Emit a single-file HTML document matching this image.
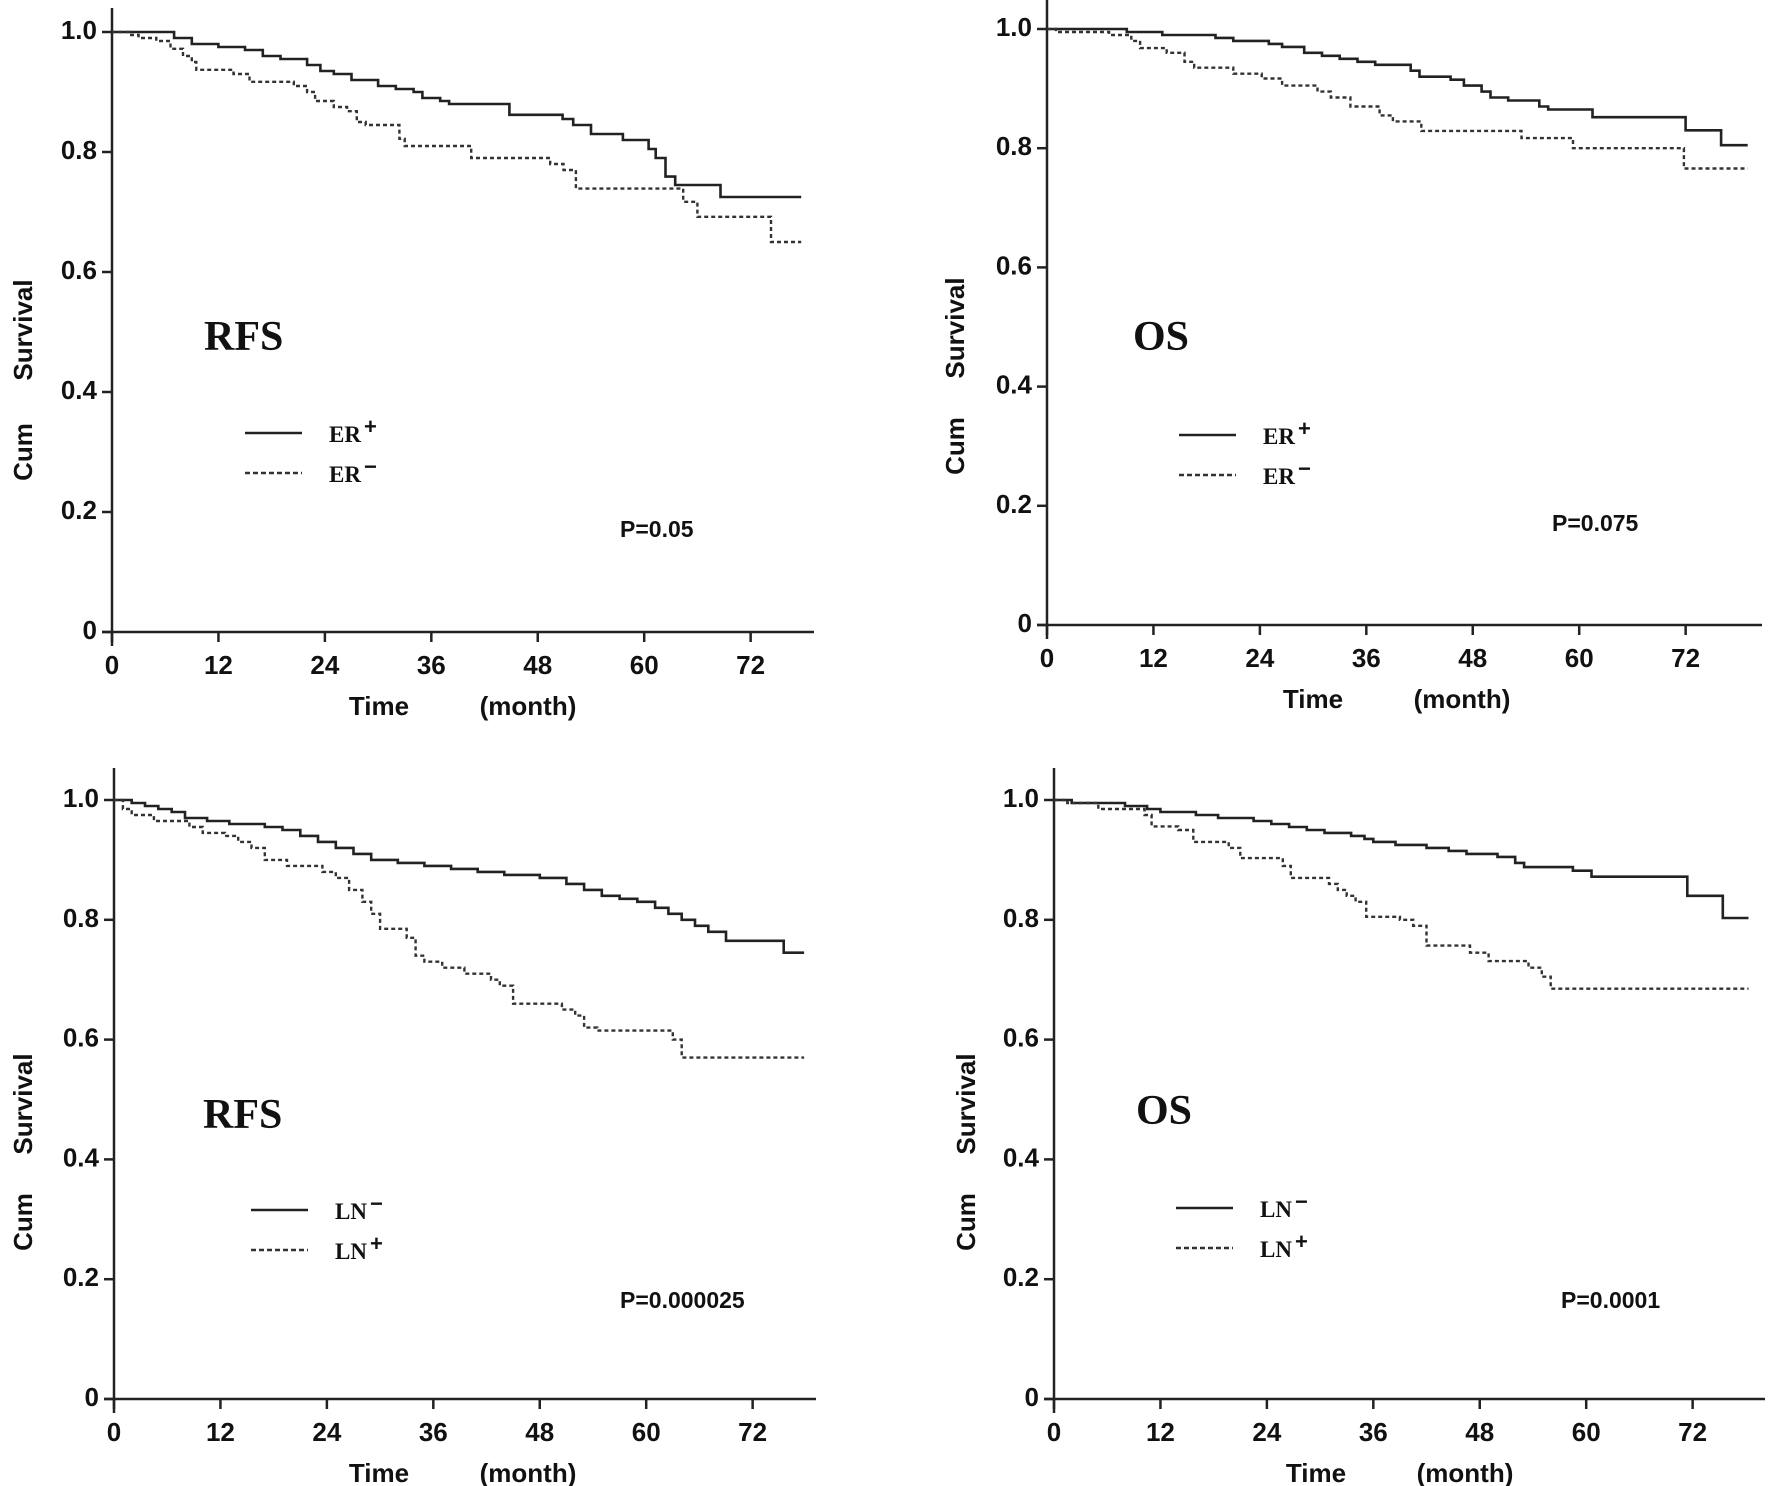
<!DOCTYPE html>
<html><head><meta charset="utf-8"><style>
html,body{margin:0;padding:0;background:#fff;}
svg{display:block;}
.tk{font-family:"Liberation Sans",sans-serif;font-weight:bold;font-size:26px;fill:#111;}
.ax{font-family:"Liberation Sans",sans-serif;font-weight:bold;font-size:26px;fill:#111;}
.ttl{font-family:"Liberation Serif",serif;font-weight:bold;font-size:42px;fill:#111;}
.lg{font-family:"Liberation Serif",serif;font-weight:bold;font-size:23px;fill:#111;}
.pv{font-family:"Liberation Sans",sans-serif;font-weight:bold;font-size:23px;fill:#111;}
</style></head><body>
<svg id="fig" width="1772" height="1486" viewBox="0 0 1772 1486" xmlns="http://www.w3.org/2000/svg"></svg>
<script>
// ---- data (months, survival) ----
const xTicks = [0, 12, 24, 36, 48, 60, 72];
const yTicks = [0, 0.2, 0.4, 0.6, 0.8, 1.0];
const yTickLabels = ["0", "0.2", "0.4", "0.6", "0.8", "1.0"];

const rfsErPosT = [7, 9, 12, 15, 17, 19, 22, 23.5, 25, 27, 30, 32, 34, 35, 37, 38, 44.8, 50.8, 52, 54, 57.6, 60.5, 61.3, 62.4, 63.5, 68.6];
const rfsErPosS = [0.99, 0.98, 0.975, 0.97, 0.96, 0.955, 0.945, 0.935, 0.93, 0.92, 0.91, 0.905, 0.9, 0.89, 0.885, 0.88, 0.862, 0.855, 0.845, 0.83, 0.82, 0.805, 0.79, 0.759, 0.745, 0.725];
const rfsErNegT = [2, 3, 5, 6.6, 8, 9, 9.5, 13.7, 15.5, 20.5, 22, 22.9, 25, 26.5, 27.6, 28.6, 32.4, 33, 40.5, 49.4, 50.9, 52.3, 64.4, 66, 74.3];
const rfsErNegS = [0.995, 0.99, 0.985, 0.972, 0.96, 0.95, 0.937, 0.93, 0.917, 0.91, 0.9, 0.885, 0.875, 0.868, 0.85, 0.845, 0.822, 0.81, 0.79, 0.78, 0.77, 0.739, 0.717, 0.692, 0.65];
const rfsErEnd = 77.7;

const osErPosT = [9, 13, 19, 21, 25, 26.5, 29, 31, 33, 35, 37, 41, 42, 45.5, 47, 49, 50, 52, 55.5, 56.5, 61.5, 72, 76];
const osErPosS = [0.995, 0.99, 0.985, 0.98, 0.975, 0.97, 0.96, 0.955, 0.95, 0.945, 0.94, 0.93, 0.92, 0.915, 0.905, 0.895, 0.885, 0.88, 0.87, 0.865, 0.852, 0.83, 0.805];
const osErNegT = [1, 7, 9.5, 10.5, 13.5, 15.5, 16.6, 21, 24.2, 26.5, 30.5, 32, 34.2, 37.5, 39, 42.2, 53.5, 59.3, 71.8];
const osErNegS = [0.995, 0.99, 0.98, 0.968, 0.96, 0.945, 0.935, 0.925, 0.917, 0.905, 0.895, 0.885, 0.87, 0.855, 0.845, 0.829, 0.817, 0.8, 0.766];
const osErEnd = 79;

const rfsLnNegT = [2, 3.5, 5, 6.5, 8, 10.5, 13, 17, 19, 21, 23, 25, 27, 29, 32, 35, 38, 41, 44, 48, 51, 53, 55, 57, 59, 61, 62.5, 64, 65.5, 67, 69, 75.5];
const rfsLnNegS = [0.995, 0.99, 0.985, 0.98, 0.97, 0.965, 0.96, 0.955, 0.95, 0.94, 0.93, 0.92, 0.91, 0.9, 0.895, 0.89, 0.885, 0.88, 0.875, 0.87, 0.86, 0.85, 0.84, 0.835, 0.83, 0.82, 0.81, 0.8, 0.79, 0.78, 0.765, 0.745];
const rfsLnPosT = [1, 2, 4.5, 8.5, 10, 12.5, 14, 15.5, 17, 19.5, 23.5, 25, 26.5, 28, 29, 30, 33, 34, 35, 37, 39.5, 42.5, 43.5, 45, 50.5, 52, 53, 54.5, 63, 64];
const rfsLnPosS = [0.985, 0.975, 0.965, 0.955, 0.945, 0.94, 0.93, 0.92, 0.9, 0.89, 0.88, 0.87, 0.85, 0.83, 0.81, 0.785, 0.77, 0.74, 0.73, 0.72, 0.71, 0.7, 0.69, 0.66, 0.65, 0.64, 0.62, 0.615, 0.6, 0.57];
const rfsLnEnd = 77.8;

const osLnNegT = [2, 8, 10.5, 12, 16, 18.5, 22.5, 24.5, 26.5, 28.5, 30.5, 33.5, 35, 36, 38.5, 42, 44.5, 46.5, 50, 52, 53, 58.5, 60.6, 71.4, 75.4];
const osLnNegS = [0.995, 0.99, 0.985, 0.98, 0.975, 0.97, 0.965, 0.96, 0.955, 0.95, 0.945, 0.94, 0.935, 0.93, 0.925, 0.92, 0.915, 0.91, 0.905, 0.895, 0.888, 0.882, 0.872, 0.84, 0.803];
const osLnPosT = [1.5, 5, 10.2, 11, 14, 15.7, 19.7, 21, 25.8, 26.7, 31, 32, 33, 34, 35.2, 39, 40.5, 42, 46.9, 49, 53.5, 55, 56];
const osLnPosS = [0.995, 0.985, 0.975, 0.956, 0.95, 0.93, 0.92, 0.903, 0.89, 0.87, 0.86, 0.85, 0.84, 0.83, 0.805, 0.8, 0.79, 0.757, 0.745, 0.731, 0.72, 0.705, 0.685];
const osLnEnd = 78.3;

const NS = "http://www.w3.org/2000/svg";
const svg = document.getElementById("fig");
function mk(tag, attrs, parent) {
  const e = document.createElementNS(NS, tag);
  for (const k in attrs) e.setAttribute(k, attrs[k]);
  (parent || svg).appendChild(e);
  return e;
}
function stepPath(ts, ss, end, X, Y) {
  let d = "M" + X(0).toFixed(1) + "," + Y(1).toFixed(1);
  for (let i = 0; i < ts.length; i++) {
    d += " H" + X(ts[i]).toFixed(1) + " V" + Y(ss[i]).toFixed(1);
  }
  d += " H" + X(end).toFixed(1);
  return d;
}
function legendText(g, x, y, base, sup) {
  const t = mk("text", {x: x, y: y, class: "lg"}, g);
  t.appendChild(document.createTextNode(base));
  const s = mk("tspan", {dx: 3, dy: -8, "font-size": "22px", "font-family": "Liberation Sans, sans-serif"}, t);
  s.textContent = sup;
  return t;
}

function panel(p) {
  const g = mk("g", {});
  
  
  const X = m => p.x0 + m * p.ppm;
  const Y = s => p.y0 - s * (p.y0 - p.y1);
  const ya = mk("line", {x1: p.x0, y1: p.top, x2: p.x0, y2: p.y0 + 14, stroke: "#222", "stroke-width": 2.5}, g);
  
  
  const xa = mk("line", {x1: p.x0 - 10, y1: p.y0, x2: p.right, y2: p.y0, stroke: "#222", "stroke-width": 2.5}, g);
  
  
  xTicks.forEach(t => {
    const l = mk("line", {x1: X(t), y1: p.y0, x2: X(t), y2: p.y0 + 10, stroke: "#222", "stroke-width": 2.5}, g);
    
    
    const tx = mk("text", {x: X(t), y: p.y0 + 42, "text-anchor": "middle", class: "tk"}, g);
    tx.textContent = String(t);
    
    
  });
  yTicks.forEach((v, i) => {
    const l = mk("line", {x1: p.x0 - 10, y1: Y(v), x2: p.x0, y2: Y(v), stroke: "#222", "stroke-width": 2.5}, g);
    
    
    const tx = mk("text", {x: p.x0 - 15, y: Y(v) + 7, "text-anchor": "end", class: "tk"}, g);
    tx.textContent = yTickLabels[i];
    
    
  });
  const t1 = mk("text", {x: p.timeX, y: p.y0 + 83, "text-anchor": "middle", class: "ax"}, g);
  t1.textContent = "Time";
  
  
  const t2 = mk("text", {x: p.timeX + 149, y: p.y0 + 83, "text-anchor": "middle", class: "ax"}, g);
  t2.textContent = "(month)";
  
  
  const c1 = mk("text", {x: 0, y: 0, "text-anchor": "middle", class: "ax", transform: "translate(" + (p.ylx + 9) + "," + p.survY + ") rotate(-90)"}, g);
  c1.textContent = "Survival";
  
  
  const c2 = mk("text", {x: 0, y: 0, "text-anchor": "middle", class: "ax", transform: "translate(" + (p.ylx + 9) + "," + p.cumY + ") rotate(-90)"}, g);
  c2.textContent = "Cum";
  
  
  const s1 = mk("path", {d: stepPath(p.aT, p.aS, p.end, X, Y), fill: "none", stroke: "#222", "stroke-width": 2.6}, g);
  
  
  const s2 = mk("path", {d: stepPath(p.bT, p.bS, p.end, X, Y), fill: "none", stroke: "#333", "stroke-width": 2.4, "stroke-dasharray": "4,3"}, g);
  
  
  const tt = mk("text", {x: p.titleX, y: p.titleY, class: "ttl"}, g);
  tt.textContent = p.title;
  
  
  const l1 = mk("line", {x1: p.lgX, y1: p.lgY, x2: p.lgX + 57, y2: p.lgY, stroke: "#222", "stroke-width": 2.6}, g);
  
  
  const l2 = mk("line", {x1: p.lgX, y1: p.lgY + 40, x2: p.lgX + 57, y2: p.lgY + 40, stroke: "#333", "stroke-width": 2.4, "stroke-dasharray": "5,3"}, g);
  
  
  const lt1 = legendText(g, p.lgX + 84, p.lgY + 9, p.aBase, p.aSup);
  
  
  const lt2 = legendText(g, p.lgX + 84, p.lgY + 49, p.bBase, p.bSup);
  
  
  const pv = mk("text", {x: p.pX, y: p.pY, class: "pv"}, g);
  pv.textContent = p.pText;
  
  
}

panel({name: "panel-rfs-er", x0: 112, ppm: 8.87, y1: 32, y0: 632, top: 8, right: 814,
  timeX: 379, ylx: 23, survY: 330, cumY: 452,
  aT: rfsErPosT, aS: rfsErPosS, bT: rfsErNegT, bS: rfsErNegS, end: rfsErEnd,
  aName: "er-positive-curve", bName: "er-negative-curve",
  title: "RFS", titleX: 204, titleY: 350, lgX: 245, lgY: 433, aBase: "ER", aSup: "+", bBase: "ER", bSup: "−",
  pX: 620, pY: 537, pText: "P=0.05"});
panel({name: "panel-os-er", x0: 1047, ppm: 8.87, y1: 29, y0: 625, top: 0, right: 1762,
  timeX: 1313, ylx: 955, survY: 328, cumY: 446,
  aT: osErPosT, aS: osErPosS, bT: osErNegT, bS: osErNegS, end: osErEnd,
  aName: "er-positive-curve", bName: "er-negative-curve",
  title: "OS", titleX: 1133, titleY: 350, lgX: 1179, lgY: 435, aBase: "ER", aSup: "+", bBase: "ER", bSup: "−",
  pX: 1552, pY: 531, pText: "P=0.075"});
panel({name: "panel-rfs-ln", x0: 114, ppm: 8.87, y1: 800, y0: 1399, top: 768, right: 816,
  timeX: 379, ylx: 23, survY: 1104, cumY: 1222,
  aT: rfsLnNegT, aS: rfsLnNegS, bT: rfsLnPosT, bS: rfsLnPosS, end: rfsLnEnd,
  aName: "ln-negative-curve", bName: "ln-positive-curve",
  title: "RFS", titleX: 203, titleY: 1128, lgX: 251, lgY: 1210, aBase: "LN", aSup: "−", bBase: "LN", bSup: "+",
  pX: 620, pY: 1308, pText: "P=0.000025"});
panel({name: "panel-os-ln", x0: 1054, ppm: 8.87, y1: 800, y0: 1399, top: 768, right: 1765,
  timeX: 1316, ylx: 966, survY: 1104, cumY: 1222,
  aT: osLnNegT, aS: osLnNegS, bT: osLnPosT, bS: osLnPosS, end: osLnEnd,
  aName: "ln-negative-curve", bName: "ln-positive-curve",
  title: "OS", titleX: 1136, titleY: 1124, lgX: 1176, lgY: 1208, aBase: "LN", aSup: "−", bBase: "LN", bSup: "+",
  pX: 1561, pY: 1308, pText: "P=0.0001"});
</script>
</body></html>
